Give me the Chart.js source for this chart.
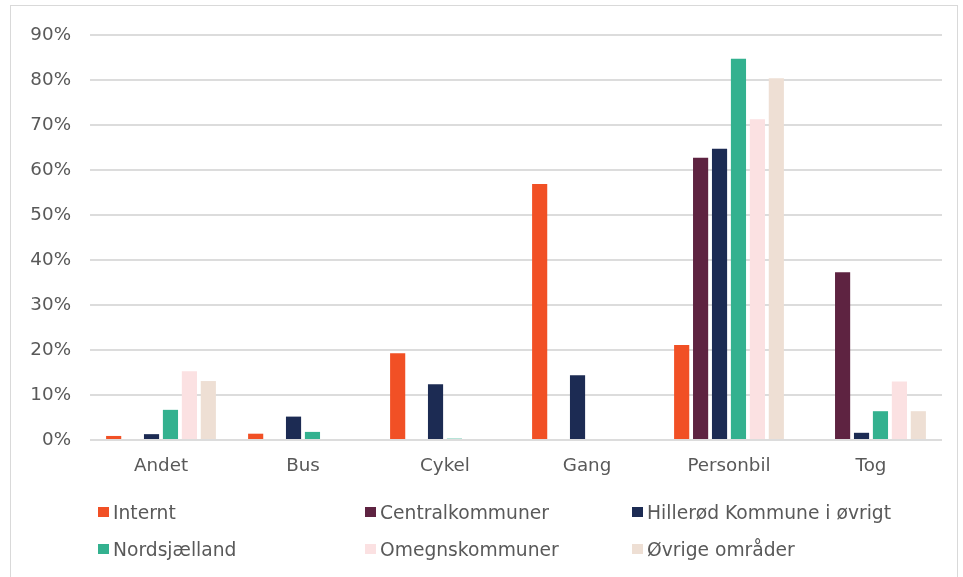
<!DOCTYPE html>
<html lang="da">
<head>
<meta charset="utf-8">
<title>Transportmiddel fordelt på område</title>
<script src="https://cdn.jsdelivr.net/npm/chart.js@4/dist/chart.umd.min.js"></script>
<style>
  html, body { margin: 0; padding: 0; background: #ffffff; }
  #wrap { position: relative; width: 963px; height: 577px; overflow: hidden; }
  #frame { position: absolute; left: 10px; top: 5px; width: 948px; height: 600px;
           border: 1px solid #d9d9d9; box-sizing: border-box; pointer-events: none; }
  canvas { position: absolute; left: 0; top: 0; }
  #legend { position: absolute; left: 0; top: 0; width: 963px; height: 577px; pointer-events: none;
            font-family: "DejaVu Sans", Verdana, sans-serif; font-size: 18.7px; color: #595959; }
  .item { position: absolute; display: flex; align-items: center; white-space: nowrap; height: 24px; }
  .sw { width: 11px; height: 10px; margin-right: 4px; flex: none; }
</style>
</head>
<body>
<div id="wrap">
  <canvas id="chart" width="963" height="577"></canvas>
  <div id="legend"></div>
  <div id="frame"></div>
</div>
<script>
// Categories (transport mode) and tick labels
const categories = ['Andet', 'Bus', 'Cykel', 'Gang', 'Personbil', 'Tog'];
const yTicks = [0, 10, 20, 30, 40, 50, 60, 70, 80, 90];

// Share of trips (%) per area
const internt      = [0.9, 1.4, 19.3, 56.9, 21.1, 0];
const central      = [0,   0,   0,    0,    62.7, 37.3];
const hilleroed    = [1.3, 5.2, 12.4, 14.4, 64.7, 1.6];
const nordsjaelland= [6.7, 1.8, 0.3,  0,    84.7, 6.4];
const omegn        = [15.3, 0,  0,    0,    71.3, 13.0];
const oevrige      = [13.1, 0,  0,    0,    80.4, 6.4];

const seriesNames = ['Internt', 'Centralkommuner', 'Hillerød Kommune i øvrigt',
                     'Nordsjælland', 'Omegnskommuner', 'Øvrige områder'];
const seriesData = [internt, central, hilleroed, nordsjaelland, omegn, oevrige];
const seriesColors = ['#F15025', '#5E2341', '#1C2B53', '#33B18F', '#FBE1E2', '#EEDFD4'];

const FONT = '"DejaVu Sans", Verdana, sans-serif';
const TEXT = '#595959';

const datasets = seriesNames.map((name, i) => ({
  label: name,
  data: seriesData[i],
  backgroundColor: seriesColors[i],
  borderWidth: 0,
  categoryPercentage: 0.8,
  barPercentage: 0.8
}));

const chart = new Chart(document.getElementById('chart'), {
  type: 'bar',
  data: { labels: categories, datasets },
  options: {
    responsive: false,
    animation: false,
    layout: { padding: { top: 35, right: 21, left: 0, bottom: 0 } },
    plugins: { legend: { display: false }, tooltip: { enabled: false } },
    scales: {
      x: {
        grid: { display: false, drawTicks: false },
        border: { display: false },
        ticks: { color: TEXT, font: { family: FONT, size: 18.3 }, padding: 15 },
        afterFit: (s) => { s.height = 137; }
      },
      y: {
        min: 0,
        max: 90,
        afterBuildTicks: (s) => { s.ticks = yTicks.map(v => ({ value: v })); },
        grid: { color: '#dcdcdc', lineWidth: 2, drawTicks: false },
        border: { display: false },
        ticks: { color: TEXT, font: { family: FONT, size: 18.3 }, padding: 19,
                 callback: (v) => v + '%' },
        afterFit: (s) => { s.width = 90; }
      }
    }
  }
});

// Legend laid out in three columns and two rows
const legendEl = document.getElementById('legend');
const colX = [98, 365, 632];
const rowY = [500, 537];
chart.data.datasets.forEach((ds, i) => {
  const item = document.createElement('div');
  item.className = 'item';
  item.style.left = colX[i % 3] + 'px';
  item.style.top = rowY[Math.floor(i / 3)] + 'px';
  const sw = document.createElement('span');
  sw.className = 'sw';
  sw.style.background = ds.backgroundColor;
  const label = document.createElement('span');
  label.textContent = ds.label;
  item.appendChild(sw);
  item.appendChild(label);
  legendEl.appendChild(item);
});
</script>
</body>
</html>
